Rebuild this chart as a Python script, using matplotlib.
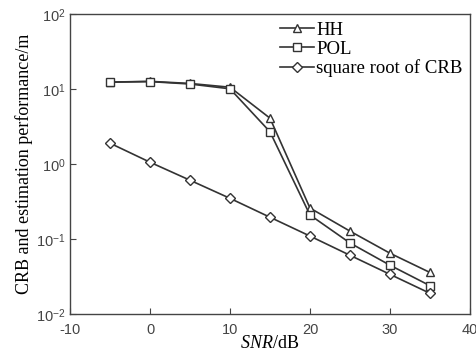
import matplotlib
matplotlib.use("Agg")
import matplotlib.pyplot as plt
import numpy as np

plt.rcParams['mathtext.fontset'] = 'custom'
plt.rcParams['mathtext.rm'] = 'Liberation Sans'
plt.rcParams['mathtext.it'] = 'Liberation Serif:italic'

# --- data ---
snr = [-5, 0, 5, 10, 15, 20, 25, 30, 35]
hh = [12.4, 12.7, 11.9, 10.6, 4.1, 0.26, 0.128, 0.065, 0.036]
pol = [12.4, 12.6, 11.7, 10.1, 2.7, 0.21, 0.089, 0.045, 0.024]
crb = [1.9, 1.06, 0.61, 0.35, 0.196, 0.11, 0.061, 0.034, 0.019]

fig = plt.figure(figsize=(4.77, 3.53), dpi=100)
ax = fig.add_axes([0.147, 0.110, 0.838, 0.850])

lc = '#333333'
kw = dict(color=lc, lw=1.2, markersize=6, markerfacecolor='white',
          markeredgecolor=lc, markeredgewidth=1.0)
ax.plot(snr, hh, marker='^', label='HH', **kw)
ax.plot(snr, pol, marker='s', label='POL', **kw)
ax.plot(snr, crb, marker='D', label='square root of CRB', **dict(kw, markersize=5.5))

ax.set_yscale('log')
ax.set_xlim(-10, 40)
ax.set_ylim(1e-2, 1e2)
ax.set_xticks([-10, 0, 10, 20, 30, 40])
ax.set_xticklabels(['-10', '0', '10', '20', '30', '40'])
ax.set_yticks([1e-2, 1e-1, 1e0, 1e1, 1e2])
ax.set_yticklabels(['10$^{-2}$', '10$^{-1}$', '10$^{0}$', '10$^{1}$', '10$^{2}$'])
ax.yaxis.set_minor_locator(matplotlib.ticker.NullLocator())
ax.tick_params(direction='in', length=4, labelsize=10.5, colors='#444444')
ax.tick_params(axis='x', pad=6)
for lab in ax.get_xticklabels() + ax.get_yticklabels():
    lab.set_family('Liberation Sans')
for s in ax.spines.values():
    s.set_color('#444444')
    s.set_linewidth(1.0)

ax.set_xlabel(r'$SNR$/dB', family='Liberation Serif', fontsize=13, labelpad=-1)
ax.set_ylabel('CRB and estimation performance/m', family='Liberation Serif',
              fontsize=13, labelpad=2)

leg = ax.legend(loc='upper right', frameon=False, prop={'family': 'Liberation Serif', 'size': 13.5},
                handlelength=1.8, handletextpad=0.1, labelspacing=0.1,
                borderaxespad=0.2, borderpad=0.2)

fig.savefig('out.png', dpi=100)
